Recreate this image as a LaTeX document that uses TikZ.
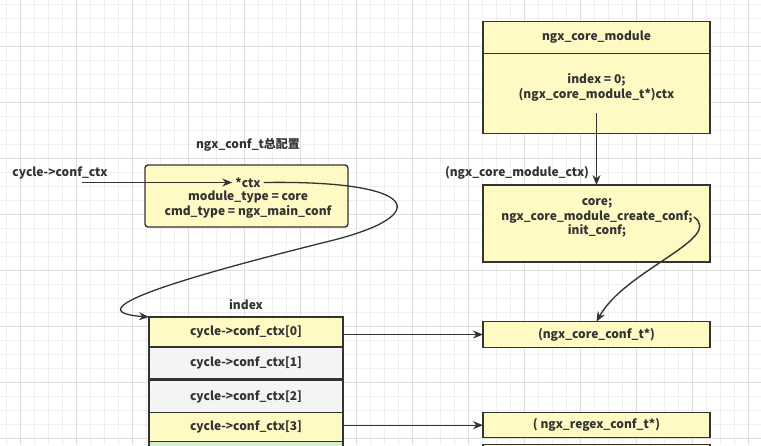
\documentclass[tikz,border=0pt]{standalone}
\usepackage{fontspec}
\setmainfont{Noto Sans CJK SC}
\usepackage{xcolor}
\usetikzlibrary{positioning}
\usetikzlibrary{arrows.meta}

\definecolor{boxyellow}{HTML}{FFF9C4}
\definecolor{boxgray}{HTML}{F4F4F4}
\definecolor{boxgreen}{HTML}{D5EDD2}
\definecolor{edgedark}{HTML}{333333}
\definecolor{txtdark}{HTML}{333333}
\definecolor{gridminor}{HTML}{F0F0F0}
\definecolor{gridmajor}{HTML}{DEDEDE}
\newcommand{\diafont}{\fontsize{12}{14.5}\selectfont\bfseries}

\begin{document}
\begin{tikzpicture}[x=1pt,y=-1pt,
    box/.style={draw=edgedark, line width=1.4pt, fill=boxyellow, inner sep=0pt, outer sep=0pt, minimum width=227pt, font=\diafont, text=txtdark},
    confbox/.style={draw=edgedark, line width=1.4pt, fill=boxyellow, rounded corners=3pt, minimum width=203pt, minimum height=62pt},
    cell/.style={draw=edgedark, line width=1.4pt, inner sep=0pt, outer sep=0pt, minimum width=194pt, minimum height=32pt, font=\diafont, text=txtdark},
    txt/.style={font=\diafont, text=txtdark, inner sep=1pt},
    link/.style={draw=edgedark, line width=1.4pt, -{Stealth[length=10pt,width=8pt]}}]
    \useasboundingbox (0,0) rectangle (761,445);
    \clip (0,0) rectangle (761,445);
    \fill[white] (0,0) rectangle (761,445);
    % background grid
    \foreach \i in {0,...,54} \draw[gridminor, line width=0.8pt] ({6.7+14*\i},0) -- ({6.7+14*\i},445);
    \foreach \j in {0,...,31} \draw[gridminor, line width=0.8pt] (0,{4.3+14*\j}) -- (761,{4.3+14*\j});
    \foreach \i in {0,...,13} \draw[gridmajor, line width=0.8pt] ({20.7+56*\i},0) -- ({20.7+56*\i},445);
    \foreach \j in {0,...,7} \draw[gridmajor, line width=0.8pt] (0,{46.3+56*\j}) -- (761,{46.3+56*\j});

    % ngx_conf_t
    \node[txt] (conftitle) at (248,145) {ngx\_conf\_t总配置};
    \node[confbox] (confbox) at (246.5,196) {};
    \node[txt, inner sep=3pt] (ptr) at (248,182.5) {*ctx};
    \node[txt] (modtype) at (248,197.5) {module\_type = core};
    \node[txt] (cmdtype) at (248,211.5) {cmd\_type = ngx\_main\_conf};
    \node[txt] (cyclbl) at (60,173) {cycle->conf\_ctx};
    \coordinate (cycstart) at (82,182.5);
    \draw[link] (cycstart) -- (ptr.west);

    % index array
    \node[txt] (idxlbl) at (246,305) {index};
    \node[cell, fill=boxyellow, minimum height=30pt] (ctx0) at (246,332) {cycle->conf\_ctx[0]};
    \node[cell, fill=boxgray, below=0mm of ctx0] (ctx1) {cycle->conf\_ctx[1]};
    \node[cell, fill=boxgray, below=1.5pt of ctx1] (ctx2) {cycle->conf\_ctx[2]};
    \node[cell, fill=boxyellow, minimum height=29pt, below=0mm of ctx2] (ctx3) {cycle->conf\_ctx[3]};
    \node[cell, fill=boxgreen, below=0mm of ctx3] (ctx4) {};
    \draw[edgedark, line width=2.2pt] (ctx0.north west) -- (ctx0.north east);

    \draw[edgedark, line width=1.3pt, -{Stealth[length=10pt,width=8pt]}] (ptr.east) .. controls (420,180) and (435,215) .. (330,241)
        .. controls (250,261) and (55,310) .. (ctx0.north west);

    % ngx_core_module
    \node[box, minimum height=31.6pt] (modhead) at (596.5,37.5) {ngx\_core\_module};
    \node[box, minimum height=80pt, below=0mm of modhead] (modbody) {};
    \node[txt, align=center] (modtext) at (596.5,87.5) {index = 0;\\(ngx\_core\_module\_t*)ctx};

    \node[txt] (ctxlbl) at (517,173) {(ngx\_core\_module\_ctx)};
    \node[box, minimum height=77pt] (ctxmod) at (596.5,223.6) {};
    \node[txt] (ctxcore) at (597,203) {core;};
    \node[txt] (mkconf) at (597,217) {ngx\_core\_module\_create\_conf;};
    \node[txt] (initconf) at (597,231) {init\_conf;};
    \draw[link] ([yshift=-11pt]modtext.south) -- (ctxmod.north);

    \node[box, minimum height=25.6pt] (coreconf) at (596.5,334.5) {(ngx\_core\_conf\_t*)};
    \node[box, minimum height=25pt] (regexconf) at (596.5,425.2) {( ngx\_regex\_conf\_t*)};
    \node[box, minimum height=25pt, below=6.5pt of regexconf] (nextconf) {};

    \draw[link] (mkconf.east) .. controls (725,238) and (625,270) .. (coreconf.north);
    \draw[link] (ctx0.east |- coreconf.west) -- (coreconf.west);
    \draw[link] (ctx3.east |- regexconf.west) -- (regexconf.west);
\end{tikzpicture}
\end{document}
